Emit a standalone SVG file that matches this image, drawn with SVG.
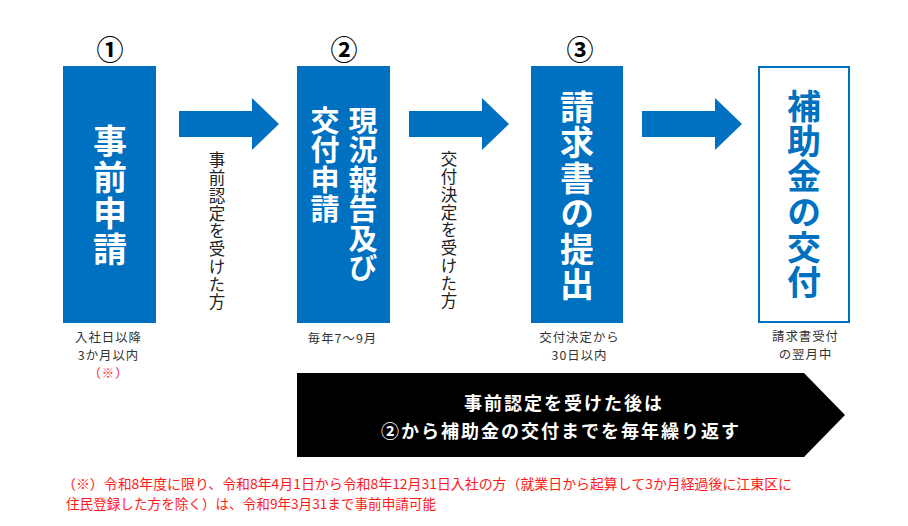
<svg xmlns="http://www.w3.org/2000/svg" width="908" height="526" viewBox="0 0 908 526">
<style>
.box{fill:#0070c0}
.obox{fill:#fff;stroke:#0070c0;stroke-width:2}
.arr{fill:#0070c0}
.v{writing-mode:vertical-rl;text-orientation:upright;text-anchor:start;dominant-baseline:central}
.big{font-family:"Noto Sans CJK JP","Noto Sans",sans-serif;font-weight:700;font-size:34px}
.mid{font-family:"Noto Sans CJK JP","Noto Sans",sans-serif;font-weight:700;font-size:29px;letter-spacing:0.4px;fill:#fff}
.w{fill:#fff}
.b{fill:#0070c0}
.num{font-family:"Noto Sans CJK JP","DejaVu Sans",sans-serif;font-weight:700;font-size:27px;text-anchor:middle;dominant-baseline:central;fill:#000}
.vl{font-family:"Noto Sans CJK JP",sans-serif;font-size:16.5px;letter-spacing:1.25px;fill:#222}
.sm{font-family:"Noto Sans CJK JP",sans-serif;font-size:12.4px;letter-spacing:1px;text-anchor:middle;dominant-baseline:central;fill:#333}
.red{fill:#ff1a1a}
.ban{font-family:"Noto Sans CJK JP",sans-serif;font-weight:700;font-size:18px;letter-spacing:2px;text-anchor:middle;dominant-baseline:central;fill:#fff}
.note{font-family:"Noto Sans CJK JP",sans-serif;font-size:13.6px;fill:#ff1a1a;dominant-baseline:central}
</style>
<defs>
<path id="arrowShape" d="M0,13 H73 V0 L100,26 L73,52 V39 H0 Z"/>
</defs>
<rect width="908" height="526" fill="#fff"/>

<g id="connectors">
<use href="#arrowShape" class="arr" x="179" y="98"/>
<use href="#arrowShape" class="arr" x="409" y="98"/>
<use href="#arrowShape" class="arr" x="642" y="98"/>
<text class="v vl" x="217" y="151.75">事前認定を受けた方</text>
<text class="v vl" x="449" y="150.75">交付決定を受けた方</text>
</g>

<g id="node1">
<text class="num" x="110" y="48">①</text>
<rect class="box" x="63" y="66" width="93" height="257"/>
<text class="v big w" x="110" y="124" style="letter-spacing:2px">事前申請</text>
<text class="sm" x="108.5" y="337">入社日以降</text>
<text class="sm" x="108.5" y="355">3か月以内</text>
<text class="sm red" x="108.5" y="373">（※）</text>
</g>

<g id="node2">
<text class="num" x="344" y="48">②</text>
<rect class="box" x="297" y="66" width="93" height="257"/>
<text class="v mid" x="363" y="106.5">現況報告及び</text>
<text class="v mid" x="325" y="106.5">交付申請</text>
<text class="sm" x="342.5" y="338">毎年7～9月</text>
</g>

<g id="node3">
<text class="num" x="580" y="48">③</text>
<rect class="box" x="531" y="66" width="92" height="257"/>
<text class="v big w" x="577" y="90" style="letter-spacing:1.4px">請求書の提出</text>
<text class="sm" x="579.5" y="337">交付決定から</text>
<text class="sm" x="579.5" y="355">30日以内</text>
</g>

<g id="node4">
<rect class="obox" x="759" y="67" width="90" height="255"/>
<text class="v big b" x="804" y="89" style="letter-spacing:1.2px">補助金の交付</text>
<text class="sm" x="805.5" y="336">請求書受付</text>
<text class="sm" x="805.5" y="354">の翌月中</text>
</g>

<g id="banner">
<polygon points="297,373 804,373 845,415 804,457 297,457" fill="#000"/>
<text class="ban"><tspan x="564" y="402">事前認定を受けた後は</tspan><tspan x="561" y="430">②から補助金の交付までを毎年繰り返す</tspan></text>
</g>

<g id="footnote">
<text class="note" x="62" y="483" textLength="730" lengthAdjust="spacingAndGlyphs">（※）令和8年度に限り、令和8年4月1日から令和8年12月31日入社の方（就業日から起算して3か月経過後に江東区に</text>
<text class="note" x="66" y="503">住民登録した方を除く）は、令和9年3月31まで事前申請可能</text>
</g>
</svg>
